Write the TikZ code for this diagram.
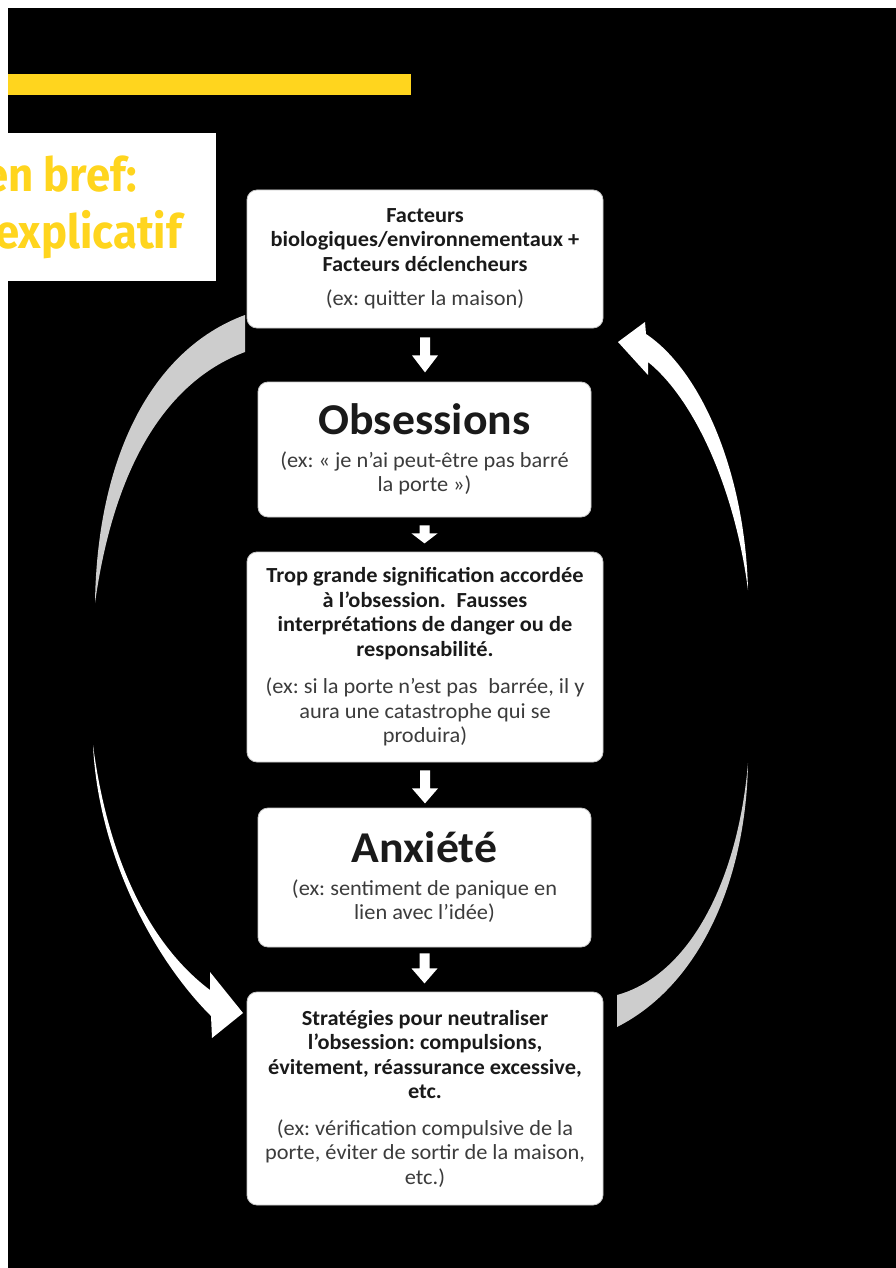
\documentclass[tikz,border=0pt]{standalone}
\usepackage{fontspec}
\setmainfont[FakeStretch=1.04]{Carlito}
\newfontfamily\titlefont[FakeStretch=0.93]{Fira Sans}
\usetikzlibrary{calc}
\definecolor{titleyellow}{HTML}{FFD51E}
\definecolor{subtext}{HTML}{3C3C3C}
\definecolor{boxtext}{HTML}{1A1A1A}
\definecolor{arcgray}{HTML}{CDCDCD}
\frenchspacing
\newcommand\ex[1]{{\mdseries\color{subtext}#1}}
\newcommand\blockarrow[4]{%
  \fill[white] ($(#1.south)+(-5,#2)$) -- ($(#1.south)+(5,#2)$) -- ($(#1.south)+(5,#3)$)
    -- ($(#1.south)+(13,#3)$) -- ($(#1.south)+(0,#4)$) -- ($(#1.south)+(-13,#3)$)
    -- ($(#1.south)+(-5,#3)$) -- cycle;}
\begin{document}
\begin{tikzpicture}[x=1pt,y=-1pt,
  box/.style={draw=black!22, line width=0.8pt, fill=white, rounded corners=10pt,
    inner sep=0pt, align=center, text=boxtext,
    font=\frenchspacing\fontsize{21.5}{24.5}\selectfont\bfseries},
  widebox/.style={box, minimum width=356},
  narrowbox/.style={box, minimum width=333},
  titletext/.style={inner sep=0pt, text=titleyellow, font=\titlefont\bfseries\fontsize{47}{50}\selectfont}]
\useasboundingbox (0,0) rectangle (896,1268);
\fill[white] (0,0) rectangle (896,1268);
\fill[black] (8,8) rectangle (896,1268);
% yellow bar
\fill[titleyellow] (8,74) rectangle (411,95);
% title box (its text runs off the left edge, as in the reference)
\fill[white] (8,133) rectangle (216,281);
\node[titletext, anchor=base east] (t1) at (137,192) {en bref:};
\node[titletext, anchor=base east] (t2) at (182,248) {explicatif};

% boxes
\node[widebox, minimum height=138] (b1) at (425,259)
  {Facteurs\\biologiques/environnementaux +\\Facteurs déclencheurs\\[10pt]\ex{(ex: quitter la maison)}};
\node[narrowbox, minimum height=135] (b2) at (424.5,449.5)
  {{\fontsize{44}{44}\selectfont Obsessions}\\[8pt]\ex{(ex: « je n'ai peut-être pas barré}\\\ex{la porte »)}};
\node[widebox, minimum height=210] (b3) at (425,657)
  {Trop grande signification accordée\\à l'obsession.\enspace Fausses\\interprétations de danger ou de\\responsabilité.\\[13pt]\ex{(ex: si la porte n'est pas\enspace barrée, il y}\\\ex{aura une catastrophe qui se}\\\ex{produira)}};
\node[narrowbox, minimum height=139] (b4) at (424.5,877.5)
  {{\fontsize{44}{44}\selectfont Anxiété}\\[8pt]\ex{(ex: sentiment de panique en}\\\ex{lien avec l'idée)}};
\node[widebox, minimum height=213] (b5) at (425,1098.5)
  {Stratégies pour neutraliser\\l'obsession: compulsions,\\évitement, réassurance excessive,\\etc.\\[12pt]\ex{(ex: vérification compulsive de la}\\\ex{porte, éviter de sortir de la maison,}\\\ex{etc.)}};

% down block arrows
\blockarrow{b1}{9}{27}{44}
\blockarrow{b2}{8}{16}{26}
\blockarrow{b3}{8}{26}{41}
\blockarrow{b4}{6}{21}{36}

% left top gray swoosh
\fill[arcgray] (95,603) .. controls (97,460) and (150,350) .. (245,315)
  -- (245,352) .. controls (170,380) and (115,460) .. (95,603) -- cycle;
% left bottom white arrow
\fill[white] (93,745) .. controls (98,850) and (150,955) .. (211,1016)
  -- (212,1038) -- (243,1013) -- (210,972) -- (210,990)
  .. controls (150,945) and (108,860) .. (93,745) -- cycle;
% right bottom gray swoosh
\fill[arcgray] (748,763) .. controls (746,880) and (700,985) .. (617,1027)
  -- (617,995) .. controls (690,975) and (738,880) .. (748,763) -- cycle;
% right top white arrow
\fill[white] (748,590) .. controls (745,470) and (700,370) .. (646,334)
  -- (645,322) -- (618,342) -- (648,375) -- (648,362)
  .. controls (695,400) and (735,490) .. (748,590) -- cycle;
\end{tikzpicture}
\end{document}
